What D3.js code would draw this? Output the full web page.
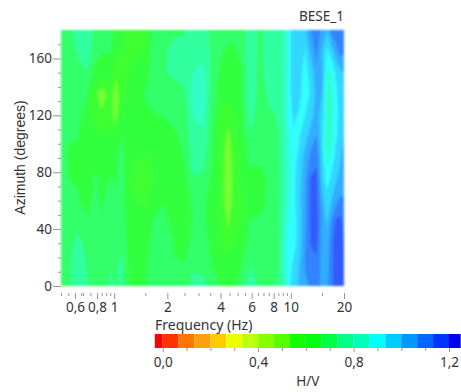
<!DOCTYPE html>
<html>
<head>
<meta charset="utf-8">
<script src="https://cdn.jsdelivr.net/npm/d3@7"></script>
<style>
  html, body { margin: 0; padding: 0; background: #fff; }
  svg { display: block; }
  text { font-family: "Noto Sans", sans-serif; font-size: 13.5px; fill: #333; }
  .tick line { stroke: #999; }
  .domain { display: none; }
</style>
</head>
<body>
<div id="chart"></div>
<script>
const title = "BESE_1";
const x_label = "Frequency (Hz)";
const y_label = "Azimuth (degrees)";
const bar_label = "H/V";

const azimuths = [0, 15, 30, 45, 60, 75, 90, 105, 120, 135, 150, 165, 180];
const frequencies = [0.5, 0.55, 0.62, 0.7, 0.78, 0.85, 0.95, 1.02, 1.1, 1.2, 1.35, 1.5, 1.7, 1.9, 2.2, 2.5, 2.8, 3.2, 3.6, 4.1, 4.4, 4.8, 5.2, 5.9, 6.7, 7.5, 8.5, 9.5, 10.3, 11, 12, 13, 14, 15, 16, 17, 18, 19, 20];

// one row per frequency, one value per azimuth (0 to 180)
const hv_values = [
  [.71, .71, .70, .70, .69, .69, .69, .69, .69, .70, .71, .71, .71],
  [.72, .72, .70, .69, .68, .67, .66, .67, .67, .69, .70, .71, .72],
  [.76, .77, .76, .71, .68, .65, .65, .67, .68, .69, .71, .74, .75],
  [.74, .73, .71, .68, .63, .61, .61, .63, .65, .67, .73, .77, .76],
  [.70, .69, .69, .68, .69, .68, .64, .61, .58, .56, .64, .70, .72],
  [.70, .69, .68, .67, .66, .65, .63, .60, .55, .49, .62, .67, .70],
  [.74, .73, .72, .71, .69, .67, .65, .63, .58, .57, .63, .67, .69],
  [.73, .73, .72, .71, .68, .66, .65, .60, .50, .49, .55, .62, .65],
  [.74, .74, .73, .72, .71, .71, .70, .67, .62, .58, .58, .60, .61],
  [.67, .66, .65, .63, .61, .60, .61, .63, .63, .62, .60, .58, .58],
  [.65, .64, .63, .61, .60, .59, .60, .63, .65, .64, .62, .59, .57],
  [.66, .65, .63, .61, .59, .58, .59, .63, .66, .67, .64, .60, .58],
  [.72, .72, .71, .68, .62, .60, .61, .62, .66, .71, .71, .71, .70],
  [.71, .72, .71, .69, .66, .65, .65, .64, .67, .72, .73, .73, .72],
  [.68, .67, .66, .64, .62, .61, .63, .65, .69, .72, .74, .74, .73],
  [.69, .67, .63, .62, .62, .64, .67, .69, .70, .73, .74, .74, .73],
  [.76, .72, .70, .67, .68, .73, .76, .78, .80, .82, .80, .76, .75],
  [.75, .71, .69, .68, .68, .71, .76, .79, .82, .83, .82, .78, .75],
  [.69, .66, .65, .63, .63, .65, .66, .67, .68, .70, .71, .72, .72],
  [.66, .63, .60, .58, .56, .56, .56, .57, .59, .62, .64, .67, .69],
  [.65, .62, .57, .52, .48, .47, .48, .51, .57, .62, .64, .66, .68],
  [.66, .63, .60, .58, .57, .57, .58, .58, .60, .62, .64, .66, .68],
  [.70, .65, .62, .60, .60, .60, .61, .62, .63, .64, .65, .68, .70],
  [.78, .73, .70, .67, .65, .65, .68, .72, .77, .80, .79, .78, .76],
  [.72, .70, .68, .67, .66, .66, .67, .67, .68, .69, .70, .71, .72],
  [.72, .70, .68, .67, .67, .67, .69, .70, .72, .75, .78, .78, .76],
  [.74, .72, .72, .72, .72, .72, .73, .73, .74, .75, .76, .77, .75],
  [.86, .88, .88, .86, .84, .82, .82, .84, .86, .85, .84, .84, .84],
  [.98, .94, .90, .90, .90, .91, .91, .93, .94, .97, .98, .98, .98],
  [1.00, .98, .95, .95, .96, .96, .94, .92, .93, .96, .98, .98, .98],
  [1.05, 1.07, 1.06, 1.05, 1.05, 1.04, 1.02, .97, .93, .90, .90, .93, .98],
  [1.08, 1.10, 1.14, 1.15, 1.15, 1.14, 1.09, 1.03, .98, .94, .96, 1.02, 1.07],
  [1.10, 1.12, 1.15, 1.16, 1.16, 1.15, 1.12, 1.07, 1.03, 1.02, 1.05, 1.09, 1.11],
  [1.05, 1.04, 1.04, 1.05, 1.02, .98, .96, .95, .97, 1.00, 1.03, 1.00, 1.05],
  [1.05, 1.03, 1.01, .99, .96, .90, .85, .84, .84, .84, .85, .92, 1.00],
  [1.12, 1.12, 1.12, 1.08, 1.00, .95, .89, .86, .85, .85, .88, .97, 1.10],
  [1.16, 1.16, 1.16, 1.15, 1.05, .99, .96, .92, .91, .92, .94, 1.04, 1.11],
  [1.17, 1.18, 1.17, 1.16, 1.08, 1.02, .99, .97, .95, .96, .98, 1.09, 1.11],
  [1.14, 1.14, 1.13, 1.11, 1.07, 1.05, 1.03, 1.00, .98, .98, 1.00, 1.08, 1.10]
];

const band_starts = [-0.033, 0, .0667, .1333, .2, .2667, .3333, .4, .4667, .5333, .6, .6667, .7333, .8, .8667, .9333, 1, 1.0667, 1.1333, 1.2];
const band_end = 1.249;
const band_colors = ["#ff0000", "#ff3300", "#ff7700", "#ffa011", "#ffcc00", "#eeff00", "#bbff11", "#88ff00", "#55ff00", "#11ff00", "#00ff11", "#00ff44", "#00ff88", "#00ffbb", "#00ffff", "#00ccff", "#0099ff", "#0066ff", "#0033ff", "#0000ee"];

const x_major = [0.6, 0.8, 1, 2, 4, 6, 8, 10, 20];
const x_minor = [0.5, 0.55, 0.65, 0.667, 0.733, 0.85, 0.9, 0.95, 1.5, 2.5, 3, 3.5, 4.5, 5, 5.5, 6.5, 7, 7.5, 8.5, 9, 9.5, 15];
const y_major = [0, 40, 80, 120, 160];
const y_minor = [10, 20, 30, 50, 60, 70, 90, 100, 110, 130, 140, 150, 170];
const bar_major = [0, 0.4, 0.8, 1.2];
const bar_minor = [0.1, 0.2, 0.3, 0.5, 0.6, 0.7, 0.9, 1, 1.1];

const comma = d => String(d).replace(".", ",");

function PlotChart(parent_element) {
  const svg = d3.select("#" + parent_element)
    .append("svg")
      .attr("width", 461)
      .attr("height", 392);

  const x = d3.scaleLog().domain([0.5, 20]).range([61, 344]);
  const y = d3.scaleLinear().domain([0, 180]).range([286, 30]);
  const bar_x = d3.scaleLinear().domain([0, 1.2]).range([162.7, 449]);

  const n = frequencies.length;
  const m = azimuths.length;

  // grid index -> pixel, the grid is not evenly spaced
  const col_px = d3.scaleLinear().domain(d3.range(n)).range(frequencies.map(f => x(f))).clamp(true);
  const row_px = d3.scaleLinear().domain(d3.range(m)).range(azimuths.map(a => y(a))).clamp(true);

  const grid = d3.merge(azimuths.map((a, j) => hv_values.map(col => col[j])));
  const contours = d3.contours().size([n, m]).smooth(true).thresholds(band_starts)(grid);
  const path = d3.geoPath(d3.geoTransform({
    point(px, py) { this.stream.point(col_px(px - 0.5), row_px(py - 0.5)); }
  }));

  svg.append("defs").append("filter")
      .attr("id", "soft")
      .attr("x", "-2%").attr("y", "-2%").attr("width", "104%").attr("height", "104%")
    .append("feGaussianBlur")
      .attr("stdDeviation", 0.8);

  svg.append("g")
      .attr("opacity", 0.8)
      .attr("filter", "url(#soft)")
    .selectAll("path")
    .data(contours)
    .enter()
    .append("path")
      .attr("d", path)
      .attr("fill", (d, i) => band_colors[i]);

  // Azimuth axis
  svg.append("g")
      .attr("transform", "translate(61,0)")
      .call(d3.axisLeft(y).tickValues(y_minor).tickSize(3).tickFormat(""));
  svg.append("g")
      .attr("transform", "translate(61,0)")
      .call(d3.axisLeft(y).tickValues(y_major).tickSize(8).tickPadding(1));

  // Frequency axis
  svg.append("g")
      .attr("transform", "translate(0,293)")
      .call(d3.axisBottom(x).tickValues(x_minor).tickSize(3).tickFormat(""));
  svg.append("g")
      .attr("transform", "translate(0,293)")
      .call(d3.axisBottom(x).tickValues(x_major).tickSize(6).tickPadding(3).tickFormat(comma));

  // colour bar
  svg.append("g")
    .selectAll("rect")
    .data(band_starts)
    .enter()
    .append("rect")
      .attr("x", d => bar_x(d))
      .attr("y", 334)
      .attr("width", (d, i) => bar_x(i + 1 < band_starts.length ? band_starts[i + 1] : band_end) - bar_x(d))
      .attr("height", 14)
      .attr("fill", (d, i) => band_colors[i]);

  svg.append("g")
      .attr("transform", "translate(0,348)")
      .call(d3.axisBottom(bar_x).tickValues(bar_minor).tickSize(3).tickFormat(""));
  svg.append("g")
      .attr("transform", "translate(0,348)")
      .call(d3.axisBottom(bar_x).tickValues(bar_major).tickSize(4).tickPadding(5).tickFormat(d => comma(d3.format(".1f")(d))));

  svg.selectAll(".tick text").style("font-size", "13.5px").attr("fill", "#333");

  svg.append("text")
      .attr("x", 344)
      .attr("y", 21)
      .attr("text-anchor", "end")
      .style("font-size", "13.5px")
      .text(title);

  svg.append("text")
      .attr("x", 155)
      .attr("y", 330)
      .style("font-size", "14px")
      .text(x_label);

  svg.append("text")
      .attr("x", 307.7)
      .attr("y", 386)
      .attr("text-anchor", "middle")
      .text(bar_label);

  svg.append("text")
      .attr("transform", "translate(25,157.5) rotate(-90)")
      .attr("text-anchor", "middle")
      .style("font-family", "'Liberation Sans', sans-serif")
      .style("font-size", "14px")
      .text(y_label);
}

document.addEventListener('DOMContentLoaded', (event) => {
  PlotChart("chart");
});
</script>
</body>
</html>
